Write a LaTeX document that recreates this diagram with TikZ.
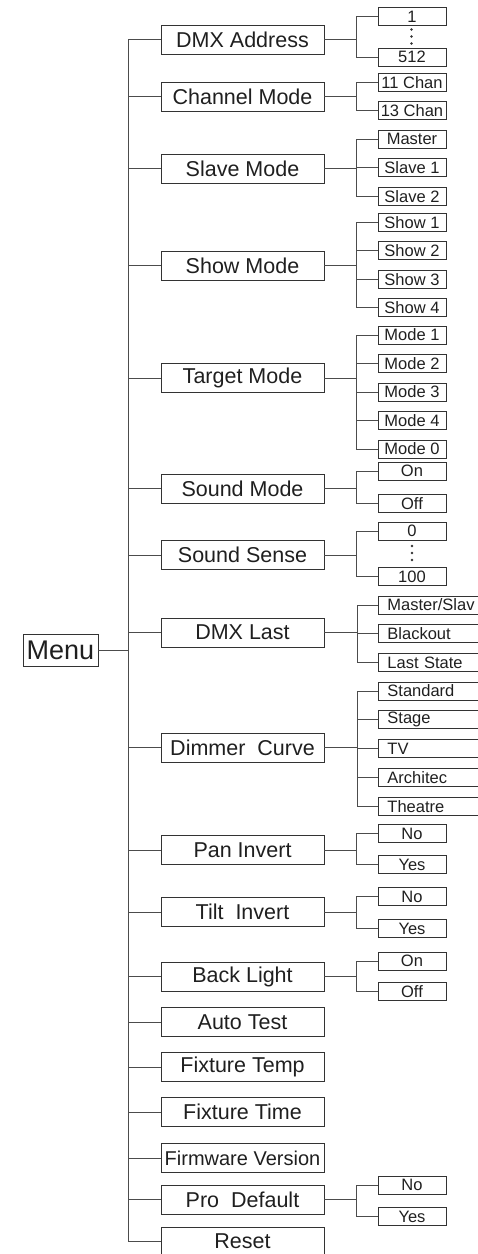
\documentclass[tikz,border=0pt]{standalone}
\usepackage{fontspec}
\setmainfont{Liberation Sans}
\usetikzlibrary{positioning}

\begin{document}
\begin{tikzpicture}[
    x=1pt, y=-1pt,
    every node/.style={text=black!88},
    menubox/.style={draw=black!80, line width=0.9pt, minimum width=75pt, minimum height=32pt, inner sep=0pt, font=\fontsize{27}{27}\selectfont},
    mainbox/.style={draw=black!80, line width=0.9pt, minimum width=163pt, minimum height=29pt, inner sep=0pt, font=\fontsize{21.5}{21.5}\selectfont},
    subbox/.style={draw=black!80, line width=0.9pt, minimum width=68pt, minimum height=18pt, inner sep=0pt, font=\fontsize{16.5}{16.5}\selectfont},
    widebox/.style={subbox, anchor=west, text width=112pt, align=left, inner xsep=9pt},
    link/.style={draw=black!70, line width=0.9pt},
    dot/.style={fill=black!80}
]
\useasboundingbox (0,0) rectangle (477,1254);

% Menu
\node[menubox] (menu) at (60.5,650) {Menu};

% main entries
\node[mainbox] (dmx) at (242.5,39.5) {DMX Address};
\node[mainbox] (chan) at (242.5,96.5) {Channel Mode};
\node[mainbox] (slave) at (242.5,168.5) {Slave Mode};
\node[mainbox] (show) at (242.5,265.5) {Show Mode};
\node[mainbox] (target) at (242.5,378) {Target Mode};
\node[mainbox] (sndmode) at (242.5,488.5) {Sound Mode};
\node[mainbox] (sndsense) at (242.5,555) {Sound Sense};
\node[mainbox] (dmxlast) at (242.5,632.5) {DMX Last};
\node[mainbox] (dimmer) at (242.5,747.5) {Dimmer\ \ Curve};
\node[mainbox] (pan) at (242.5,850) {Pan Invert};
\node[mainbox] (tilt) at (242.5,912) {Tilt\ \ Invert};
\node[mainbox] (backlight) at (242.5,976.5) {Back Light};
\node[mainbox] (autotest) at (242.5,1022) {Auto Test};
\node[mainbox] (ftemp) at (242.5,1067) {Fixture Temp};
\node[mainbox] (ftime) at (242.5,1112) {Fixture Time};
\node[mainbox, font=\fontsize{20}{20}\selectfont] (firmware) at (242.5,1158) {Firmware Version};
\node[mainbox] (prodef) at (242.5,1199.5) {Pro\ \ Default};
\node[mainbox] (reset) at (242.5,1241.5) {Reset};

% DMX Address
\node[subbox] (addr1) at (412,16.5) {1};
\node[subbox] (addr512) at (412,57) {512};
\fill[dot] (411.5,29.5) circle (1.3);
\fill[dot] (411.5,36.5) circle (1.3);
\fill[dot] (411.5,43.5) circle (1.3);

% Channel Mode
\node[subbox] (ch11) at (412,82.5) {11 Chan};
\node[subbox, below=9.5pt of ch11] (ch13) {13 Chan};

% Slave Mode
\node[subbox] (smaster) at (412,139) {Master};
\node[subbox, below=10pt of smaster] (sslave1) {Slave 1};
\node[subbox, below=10pt of sslave1] (sslave2) {Slave 2};

% Show Mode
\node[subbox] (show1) at (412,222.5) {Show 1};
\node[subbox, below=9.5pt of show1] (show2) {Show 2};
\node[subbox, below=9.5pt of show2] (show3) {Show 3};
\node[subbox, below=9.5pt of show3] (show4) {Show 4};

% Target Mode
\node[subbox] (mode1) at (412,335) {Mode 1};
\node[subbox, below=9.6pt of mode1] (mode2) {Mode 2};
\node[subbox, below=9.6pt of mode2] (mode3) {Mode 3};
\node[subbox, below=9.6pt of mode3] (mode4) {Mode 4};
\node[subbox, below=9.6pt of mode4] (mode0) {Mode 0};

% Sound Mode
\node[subbox] (sndon) at (412,471) {On};
\node[subbox, below=13.5pt of sndon] (sndoff) {Off};

% Sound Sense
\node[subbox] (sense0) at (412,531) {0};
\node[subbox] (sense100) at (412,576.5) {100};
\fill[dot] (412,546) circle (1.3);
\fill[dot] (412,553) circle (1.3);
\fill[dot] (412,560) circle (1.3);

% DMX Last
\node[widebox] (dlmaster) at (378,605) {Master/Slav};
\node[widebox, below=10pt of dlmaster] (dlblack) {Blackout};
\node[widebox, below=10pt of dlblack] (dllast) {Last State};

% Dimmer Curve
\node[widebox] (dcstd) at (378,691) {Standard};
\node[widebox, below=10pt of dcstd] (dcstage) {Stage};
\node[widebox, below=10pt of dcstage] (dctv) {TV};
\node[widebox, below=10pt of dctv] (dcarch) {Architec};
\node[widebox, below=10pt of dcarch] (dctheatre) {Theatre};

% Pan / Tilt / Back Light
\node[subbox] (panno) at (412,833.5) {No};
\node[subbox, below=12.5pt of panno] (panyes) {Yes};
\node[subbox] (tiltno) at (412,896.5) {No};
\node[subbox, below=13pt of tiltno] (tiltyes) {Yes};
\node[subbox] (blon) at (412,961) {On};
\node[subbox, below=12pt of blon] (bloff) {Off};

% Pro Default
\node[subbox] (prono) at (412,1185) {No};
\node[subbox, below=13pt of prono] (proyes) {Yes};

% trunk
\draw[link] (menu.east) -- ++(31,0);
\draw[link] (dmx.west) -- ++(-32,0) |- (reset.west);
\draw[link] (chan.west) -- ++(-32,0);
\draw[link] (slave.west) -- ++(-32,0);
\draw[link] (show.west) -- ++(-32,0);
\draw[link] (target.west) -- ++(-32,0);
\draw[link] (sndmode.west) -- ++(-32,0);
\draw[link] (sndsense.west) -- ++(-32,0);
\draw[link] (dmxlast.west) -- ++(-32,0);
\draw[link] (dimmer.west) -- ++(-32,0);
\draw[link] (pan.west) -- ++(-32,0);
\draw[link] (tilt.west) -- ++(-32,0);
\draw[link] (backlight.west) -- ++(-32,0);
\draw[link] (autotest.west) -- ++(-32,0);
\draw[link] (ftemp.west) -- ++(-32,0);
\draw[link] (ftime.west) -- ++(-32,0);
\draw[link] (firmware.west) -- ++(-32,0);
\draw[link] (prodef.west) -- ++(-32,0);

% branches
\draw[link] (dmx.east) -- ++(33,0);
\draw[link] (addr1.west) -- ++(-21,0) |- (addr512.west);

\draw[link] (chan.east) -- ++(33,0);
\draw[link] (ch11.west) -- ++(-21,0) |- (ch13.west);

\draw[link] (slave.east) -- ++(33,0);
\draw[link] (smaster.west) -- ++(-21,0) |- (sslave2.west);
\draw[link] (sslave1.west) -- ++(-21,0);

\draw[link] (show.east) -- ++(33,0);
\draw[link] (show1.west) -- ++(-21,0) |- (show4.west);
\draw[link] (show2.west) -- ++(-21,0);
\draw[link] (show3.west) -- ++(-21,0);

\draw[link] (target.east) -- ++(33,0);
\draw[link] (mode1.west) -- ++(-21,0) |- (mode0.west);
\draw[link] (mode2.west) -- ++(-21,0);
\draw[link] (mode3.west) -- ++(-21,0);
\draw[link] (mode4.west) -- ++(-21,0);

\draw[link] (sndmode.east) -- ++(33,0);
\draw[link] (sndon.west) -- ++(-21,0) |- (sndoff.west);

\draw[link] (sndsense.east) -- ++(33,0);
\draw[link] (sense0.west) -- ++(-21,0) |- (sense100.west);

\draw[link] (dmxlast.east) -- ++(33,0);
\draw[link] (dlmaster.west) -- ++(-21,0) |- (dllast.west);
\draw[link] (dlblack.west) -- ++(-21,0);

\draw[link] (dimmer.east) -- ++(33,0);
\draw[link] (dcstd.west) -- ++(-21,0) |- (dctheatre.west);
\draw[link] (dcstage.west) -- ++(-21,0);
\draw[link] (dctv.west) -- ++(-21,0);
\draw[link] (dcarch.west) -- ++(-21,0);

\draw[link] (pan.east) -- ++(33,0);
\draw[link] (panno.west) -- ++(-21,0) |- (panyes.west);

\draw[link] (tilt.east) -- ++(33,0);
\draw[link] (tiltno.west) -- ++(-21,0) |- (tiltyes.west);

\draw[link] (backlight.east) -- ++(33,0);
\draw[link] (blon.west) -- ++(-21,0) |- (bloff.west);

\draw[link] (prodef.east) -- ++(33,0);
\draw[link] (prono.west) -- ++(-21,0) |- (proyes.west);

\end{tikzpicture}
\end{document}
